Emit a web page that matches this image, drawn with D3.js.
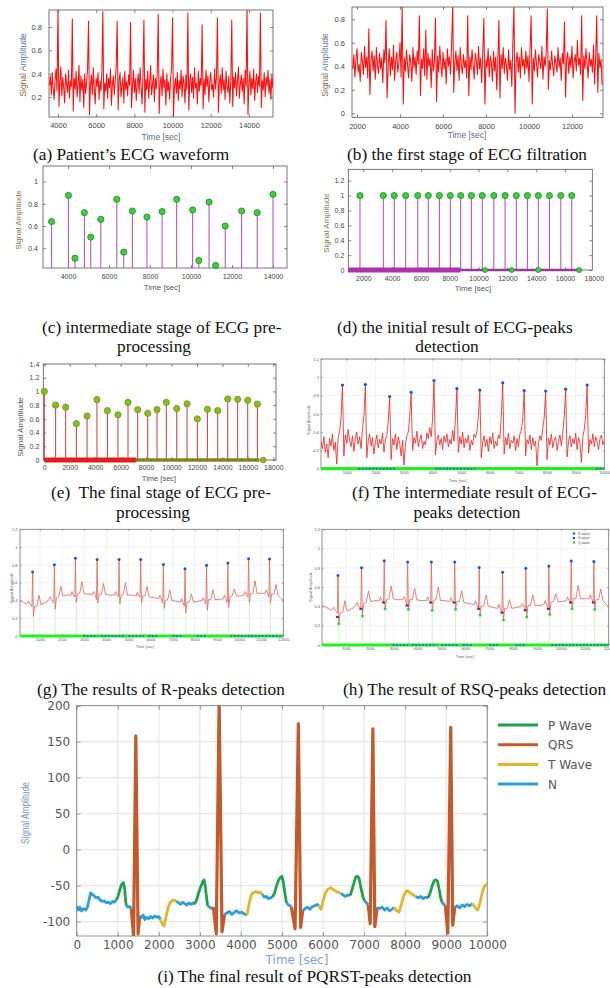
<!DOCTYPE html>
<html>
<head>
<meta charset="utf-8">
<script src="https://cdn.jsdelivr.net/npm/d3@7"></script>
<style>
body{margin:0;background:#fff;}
</style>
</head>
<body>
<svg id="fig" width="610" height="988"></svg>
<script>
/* ======== data ======== */
// (a) raw ECG, sampled every 50 s from 3550
var aStart = 3550, aStep = 50;
var aSignal = [0.30,0.38,0.22,0.41,0.27,0.18,0.35,0.44,0.25,
	0.97,0.12,0.33,0.46,0.21,0.37,0.28,0.15,0.40,0.31,0.24,0.43,0.19,0.34,0.29,
	0.87,0.08,0.36,0.27,0.42,0.20,0.31,0.47,0.16,0.38,0.26,0.35,0.11,0.40,0.23,0.33,0.44,
	0.85,0.05,0.30,0.39,0.22,0.45,0.27,0.14,0.36,0.29,0.41,0.18,0.34,0.25,0.43,
	0.93,0.10,0.32,0.25,0.40,0.19,0.36,0.28,0.44,0.13,0.31,0.38,0.22,0.35,0.46,
	0.85,0.09,0.34,0.41,0.20,0.29,0.37,0.15,0.42,0.26,0.33,0.21,0.39,0.30,
	0.84,0.11,0.28,0.43,0.24,0.36,0.17,0.32,0.40,0.23,0.45,0.29,0.14,0.37,
	0.86,0.07,0.35,0.26,0.42,0.19,0.33,0.47,0.22,0.30,0.39,0.16,0.36,0.27,0.41,
	0.91,0.06,0.31,0.38,0.21,0.44,0.28,0.35,0.13,0.40,0.25,0.33,0.18,0.37,0.45,
	0.88,0.04,0.29,0.36,0.23,0.41,0.17,0.34,0.27,0.43,0.20,0.38,0.31,0.15,0.39,0.26,
	0.92,0.09,0.33,0.40,0.24,0.37,0.19,0.45,0.28,0.32,0.14,0.42,0.25,0.36,0.30,
	0.82,0.10,0.35,0.22,0.43,0.29,0.38,0.16,0.34,0.41,0.26,0.31,0.20,0.44,0.27,0.37,
	0.88,0.07,0.32,0.39,0.23,0.45,0.26,0.35,0.18,0.42,0.30,0.24,0.38,0.15,0.33,
	0.86,0.12,0.37,0.28,0.41,0.21,0.34,0.46,0.19,0.31,0.39,0.25,0.36,0.14,0.43,0.29,
	0.97,0.05,0.30,0.42,0.22,0.36,0.27,0.44,0.17,0.33,0.40,0.24,0.38,0.29,
	0.92,0.11,0.34,0.26,0.41,0.20,0.37,0.30,0.43,0.23,0.35,0.18,0.39,0.28];
var aTicksX = [4000,6000,8000,10000,12000,14000];
var aTicksY = [0.2,0.4,0.6,0.8];

// (b) first filtration stage, every 50 s from 1800
var bStart = 1800, bStep = 50;
var bSignal = [0.38,0.50,0.31,0.46,0.55,0.35,0.42,0.27,0.52,0.44,0.33,0.57,0.39,0.48,0.30,
	0.72,0.16,0.45,0.53,0.36,0.49,0.29,0.56,0.41,0.34,0.51,0.38,0.47,0.26,0.54,0.43,
	0.79,0.13,0.40,0.55,0.32,0.48,0.37,0.58,0.28,0.45,0.52,0.35,0.43,0.60,0.31,
	0.92,0.08,0.47,0.36,0.54,0.41,0.30,0.50,0.44,0.27,0.56,0.39,0.48,0.33,0.53,0.42,
	0.83,0.15,0.46,0.38,0.55,0.32,
	0.71,0.29,0.51,0.40,0.47,0.22,0.54,0.36,0.44,
	0.81,0.10,0.49,0.35,0.57,0.42,0.31,0.52,0.38,0.46,0.25,0.55,0.40,0.48,0.33,0.58,
	0.92,0.18,0.44,0.53,0.36,0.49,0.28,0.56,0.41,0.34,0.50,0.39,0.45,0.30,
	0.83,0.15,0.48,0.37,0.54,0.42,0.29,0.51,0.45,0.33,0.57,0.38,0.47,0.26,0.52,
	0.81,0.08,0.46,0.39,0.55,0.31,0.49,0.43,0.27,0.53,0.36,0.48,0.20,0.44,
	0.79,0.13,0.50,0.38,0.56,0.34,0.47,0.41,0.28,0.54,0.37,0.45,0.23,0.61,
	0.92,0.00,0.43,0.52,0.35,0.48,0.30,0.56,0.40,0.46,0.33,0.53,0.38,0.49,0.27,0.55,
	0.83,0.08,0.47,0.36,0.54,0.42,0.31,0.50,0.44,0.38,0.57,0.29,0.48,0.40,0.52,
	0.89,0.20,0.45,0.37,0.53,0.41,0.32,0.49,0.43,0.35,0.56,0.39,0.47,0.28,0.51,0.42,
	0.78,0.14,0.46,0.52,0.34,0.48,0.39,0.57,0.30,0.44,0.50,0.36,0.62,0.41,0.47,0.33,
	0.83,0.11,0.49,0.38,0.55,0.43,0.30,0.52,0.40,0.46,0.35,0.58,0.25,0.47,
	0.83,0.18,0.51,0.39,0.46,0.24];
var bTicksX = [2000,4000,6000,8000,10000,12000];
var bTicksY = [0,0.2,0.4,0.6,0.8];

// (c) intermediate pre-processing stems
var cTimes = [3200,4020,4340,4800,5110,5600,6380,6720,7140,7850,8590,9300,10080,10380,10880,11200,11670,12470,13230,14000];
var cValues = [0.64,0.875,0.31,0.72,0.50,0.66,0.84,0.365,0.735,0.68,0.73,0.84,0.745,0.29,0.815,0.245,0.60,0.735,0.72,0.885];
var cTicksX = [4000,6000,8000,10000,12000,14000];
var cTicksY = [0.4,0.6,0.8,1];

// (d) initial peak detection
var dTimes = [1770,3390,4150,4940,5780,6510,7280,8040,8760,9500,10260,11060,11840,12620,13390,14150,14920,15710,16470];
var dValues = [1,1,1,1,1,1,1,1,1,1,1,1,1,1,1,1,1,1,1];
var dZeroDense = [950,8750];
var dZeroSparse = [8750,17000];
var dZeroMarks = [10450,12300,14150,16980];
var dTicksX = [2000,4000,6000,8000,10000,12000,14000,16000,18000];
var dTicksY = [0,0.2,0.4,0.6,0.8,1,1.2];

// (e) final pre-processing
var eTimes = [0,890,1680,2520,3360,4140,4960,5790,6580,7340,8130,8860,9590,10410,11220,12030,12820,13630,14420,15200,15990,16750];
var eValues = [1.0,0.80,0.77,0.53,0.64,0.88,0.72,0.66,0.84,0.735,0.68,0.735,0.84,0.75,0.82,0.60,0.74,0.72,0.89,0.885,0.87,0.815];
var eZeroDense = [0,7200];
var eZeroSparse = [7200,16900];
var eZeroMarks = [17200];
var eTicksX = [0,2000,4000,6000,8000,10000,12000,14000,16000,18000];
var eTicksY = [0,0.2,0.4,0.6,0.8,1,1.2,1.4];

// (f) intermediate ECG-peak detection, every 50 s from 100
var fStart = 100, fStep = 50;
var fSignal = [0.30,0.22,0.35,0.18,0.27,0.12,0.33,0.25,0.38,0.20,0.29,0.05,0.34,0.41,0.56,
	0.90,0.14,0.37,0.28,0.43,0.31,0.24,0.36,0.19,0.33,0.40,0.27,0.35,0.22,0.44,0.58,
	0.90,0.12,0.30,0.38,0.25,0.34,0.16,0.29,0.37,0.23,0.32,0.27,0.39,0.18,0.31,0.36,0.52,
	0.78,0.10,0.33,0.26,0.38,0.21,0.35,0.28,0.14,0.31,0.04,0.27,0.36,0.40,0.57,
	0.82,0.20,0.34,0.28,0.41,0.24,0.32,0.37,0.22,0.30,0.26,0.39,0.33,0.45,0.35,0.55,
	0.95,0.15,0.31,0.37,0.26,0.33,0.21,0.36,0.29,0.38,0.24,0.32,0.27,0.42,0.30,0.56,
	0.86,0.18,0.35,0.27,0.40,0.23,0.33,0.28,0.37,0.20,0.31,0.26,0.38,0.34,0.41,0.58,
	0.85,0.12,0.29,0.36,0.24,0.32,0.19,0.35,0.27,0.39,0.22,0.30,0.25,0.37,0.33,0.57,
	0.93,0.16,0.34,0.26,0.39,0.22,0.31,0.28,0.36,0.20,0.33,0.24,0.38,0.42,0.55,
	0.84,0.14,0.32,0.27,0.37,0.21,0.34,0.25,0.30,0.03,0.28,0.36,0.31,0.44,0.56,
	0.84,0.10,0.33,0.26,0.38,0.23,0.31,0.35,0.20,0.29,0.37,0.25,0.40,0.57,
	0.86,0.13,0.30,0.36,0.24,0.33,0.27,0.39,0.21,0.34,0.28,0.07,0.35,0.43,0.58,
	0.90,0.17,0.32,0.27,0.38,0.24,0.35,0.29,0.21,0.33,0.37,0.26,0.31];
var fPeakTimes = [850,1650,2500,3250,4050,4850,5650,6450,7200,7950,8650,9400];
var fPeakValues = [0.915,0.92,0.79,0.835,0.965,0.875,0.86,0.94,0.855,0.85,0.87,0.915];
var fBlueSpans = [[1400,2700],[4100,5500],[9700,10000]];
var fTicksX = [1000,2000,3000,4000,5000,6000,7000,8000,9000,10000];

// (g)/(h) cleaned ECG with R, S, Q peaks
var ecgSignal = [[0,0.41],[100,0.40],[250,0.38],[400,0.36],[490,0.39],[550,0.36],[640,0.33],[670,0.72],[705,0.22],[760,0.33],[870,0.34],[960,0.46],[1050,0.35],[1200,0.37],[1350,0.39],[1470,0.44],[1530,0.40],[1625,0.375],
	[1655,0.80],[1690,0.30],[1745,0.43],[1850,0.44],[1945,0.56],[2035,0.45],[2200,0.46],[2400,0.46],[2450,0.50],[2510,0.46],[2575,0.44],
	[2605,0.87],[2640,0.375],[2695,0.47],[2800,0.48],[2895,0.61],[2985,0.48],[3150,0.47],[3380,0.47],[3430,0.50],[3490,0.47],[3555,0.41],
	[3585,0.86],[3620,0.37],[3675,0.47],[3780,0.47],[3875,0.59],[3965,0.47],[4150,0.46],[4370,0.46],[4420,0.50],[4480,0.46],[4548,0.44],
	[4578,0.86],[4613,0.36],[4668,0.46],[4770,0.47],[4868,0.60],[4958,0.46],[5150,0.46],[5350,0.45],[5400,0.49],[5460,0.45],[5525,0.44],
	[5555,0.86],[5590,0.37],[5645,0.45],[5750,0.45],[5845,0.56],[5935,0.44],[6150,0.43],[6370,0.42],[6420,0.46],[6480,0.42],[6550,0.375],
	[6580,0.80],[6615,0.31],[6670,0.40],[6775,0.41],[6870,0.52],[6960,0.40],[7150,0.39],[7350,0.38],[7400,0.42],[7460,0.38],[7528,0.335],
	[7558,0.755],[7593,0.26],[7648,0.38],[7750,0.38],[7848,0.47],[7938,0.38],[8150,0.39],[8330,0.40],[8380,0.43],[8440,0.40],[8502,0.36],
	[8532,0.795],[8567,0.29],[8622,0.41],[8725,0.41],[8822,0.52],[8912,0.41],[9100,0.41],[9290,0.42],[9340,0.46],[9400,0.42],[9465,0.375],
	[9495,0.815],[9530,0.32],[9585,0.44],[9690,0.45],[9785,0.53],[9875,0.45],[10050,0.45],[10230,0.46],[10280,0.50],[10340,0.46],[10402,0.44],
	[10432,0.87],[10467,0.375],[10522,0.48],[10625,0.48],[10722,0.62],[10812,0.48],[11000,0.48],[11180,0.48],[11230,0.52],[11290,0.48],[11350,0.44],
	[11380,0.86],[11415,0.37],[11470,0.47],[11575,0.47],[11670,0.58],[11760,0.46],[11900,0.42],[12000,0.40]];
var rTimes = [670,1655,2605,3585,4578,5555,6580,7558,8532,9495,10432,11380];
var rValues = [0.72,0.80,0.875,0.86,0.86,0.86,0.805,0.755,0.795,0.82,0.87,0.865];
var sTimes = [645,1630,2580,3560,4553,5530,6555,7533,8507,9470,10407,11355];
var sValues = [0.29,0.375,0.44,0.41,0.44,0.44,0.375,0.335,0.36,0.375,0.44,0.44];
var qTimes = [705,1690,2640,3620,4613,5590,6615,7593,8567,9530,10467,11415];
var qValues = [0.22,0.30,0.375,0.37,0.36,0.37,0.31,0.26,0.29,0.32,0.375,0.37];
var ghBlueSpans = [[2950,3600],[3750,4800],[5000,5700],[5900,6300],[7000,7400],[8100,8500],[9600,12000]];
var ghTicksX = [1000,2000,3000,4000,5000,6000,7000,8000,9000,10000,11000,12000];
var smallTicksY = [0,0.2,0.4,0.6,0.8,1,1.2];
var rsqLegend = ['R-wave','S-wave','Q-wave'];

// (i) PQRST segmentation: [time, amplitude, wave]
var pqrstPoints = [
	[0,-78,'N'],[40,-84,'N'],[80,-80,'N'],[120,-85,'N'],[170,-82,'N'],[220,-84,'N'],[260,-80,'N'],[300,-70,'N'],[340,-60,'N'],[380,-62,'N'],[420,-64,'N'],[470,-67,'N'],[520,-66,'N'],[570,-70,'N'],[620,-72,'N'],[670,-71,'N'],[720,-74,'N'],[770,-73,'N'],[820,-75,'N'],[870,-72,'N'],[920,-73,'N'],[960,-70,'N'],
	[1000,-66,'P'],[1040,-58,'P'],[1080,-50,'P'],[1110,-47,'P'],[1140,-46,'P'],[1170,-55,'P'],[1190,-70,'P'],[1210,-78,'P'],
	[1250,-80,'N'],[1290,-79,'N'],[1330,-82,'N'],
	[1385,-120,'QRS'],[1440,158,'QRS'],[1495,-117,'QRS'],[1535,-92,'QRS'],
	[1580,-94,'N'],[1620,-91,'N'],[1660,-97,'N'],[1700,-94,'N'],[1750,-96,'N'],[1800,-93,'N'],[1850,-95,'N'],[1900,-92,'N'],[1950,-94,'N'],[2000,-93,'N'],[2040,-97,'N'],
	[2090,-104,'T'],[2130,-106,'T'],[2180,-92,'T'],[2230,-80,'T'],[2280,-73,'T'],[2330,-71,'T'],[2380,-70,'T'],[2430,-72,'T'],
	[2480,-74,'N'],[2530,-76,'N'],[2580,-73,'N'],[2630,-75,'N'],[2680,-77,'N'],[2730,-74,'N'],[2780,-76,'N'],[2830,-74,'N'],[2870,-76,'N'],
	[2920,-70,'P'],[2970,-60,'P'],[3020,-52,'P'],[3070,-45,'P'],[3100,-42,'P'],[3130,-50,'P'],[3160,-65,'P'],[3190,-78,'P'],
	[3240,-80,'N'],[3290,-82,'N'],[3330,-80,'N'],
	[3400,-117,'QRS'],[3470,205,'QRS'],[3540,-114,'QRS'],[3600,-90,'QRS'],
	[3660,-88,'N'],[3720,-86,'N'],[3780,-90,'N'],[3840,-87,'N'],[3900,-85,'N'],[3960,-88,'N'],[4020,-87,'N'],[4080,-89,'N'],[4150,-91,'N'],
	[4200,-75,'T'],[4250,-63,'T'],[4300,-60,'T'],[4360,-58,'T'],[4420,-60,'T'],[4470,-59,'T'],[4520,-62,'T'],
	[4570,-66,'N'],[4620,-65,'N'],[4670,-68,'N'],[4720,-67,'N'],[4770,-66,'N'],
	[4820,-60,'P'],[4870,-50,'P'],[4920,-42,'P'],[4970,-38,'P'],[5000,-37,'P'],[5030,-44,'P'],[5070,-60,'P'],[5110,-74,'P'],
	[5160,-77,'N'],[5200,-78,'N'],[5230,-80,'N'],
	[5320,-110,'QRS'],[5400,175,'QRS'],[5455,-108,'QRS'],[5505,-85,'QRS'],
	[5560,-82,'N'],[5620,-80,'N'],[5680,-83,'N'],[5740,-79,'N'],[5800,-78,'N'],[5860,-76,'N'],[5900,-78,'N'],
	[5950,-83,'T'],[6000,-72,'T'],[6060,-60,'T'],[6120,-55,'T'],[6200,-53,'T'],[6260,-56,'T'],[6330,-58,'T'],[6440,-61,'T'],
	[6490,-63,'N'],[6540,-65,'N'],[6600,-63,'N'],[6660,-64,'N'],
	[6710,-55,'P'],[6760,-45,'P'],[6800,-38,'P'],[6840,-37,'P'],[6880,-40,'P'],[6920,-52,'P'],[6970,-65,'P'],[7010,-71,'P'],
	[7060,-74,'N'],[7100,-76,'N'],
	[7150,-103,'QRS'],[7215,168,'QRS'],[7262,-107,'QRS'],[7320,-80,'QRS'],
	[7380,-82,'N'],[7440,-80,'N'],[7500,-84,'N'],[7560,-81,'N'],[7620,-85,'N'],[7680,-83,'N'],[7730,-80,'N'],
	[7780,-84,'T'],[7850,-87,'T'],[7900,-78,'T'],[7960,-65,'T'],[8020,-58,'T'],[8060,-57,'T'],[8120,-60,'T'],[8200,-63,'T'],[8260,-65,'T'],
	[8320,-67,'N'],[8380,-65,'N'],[8440,-68,'N'],[8500,-66,'N'],[8560,-67,'N'],
	[8610,-60,'P'],[8660,-50,'P'],[8710,-43,'P'],[8750,-42,'P'],[8790,-44,'P'],[8830,-55,'P'],[8870,-68,'P'],[8900,-73,'P'],
	[8940,-76,'N'],[8980,-77,'N'],
	[9040,-116,'QRS'],[9112,170,'QRS'],[9160,-105,'QRS'],[9210,-80,'QRS'],
	[9270,-78,'N'],[9330,-81,'N'],[9390,-77,'N'],[9450,-79,'N'],[9510,-76,'N'],[9570,-78,'N'],[9640,-75,'N'],
	[9700,-80,'T'],[9770,-84,'T'],[9820,-75,'T'],[9870,-62,'T'],[9920,-52,'T'],[9960,-49,'T'],[10000,-48,'T']];
var waveKeys = ['P','QRS','T','N'];
var waveNames = ['P Wave','QRS','T Wave','N'];
var iTicksX = [0,1000,2000,3000,4000,5000,6000,7000,8000,9000,10000];
var iTicksY = [-100,-50,0,50,100,150,200];

var captions = [
	['(a) Patient\u2019s ECG waveform'],
	['(b) the first stage of ECG filtration'],
	['(c) intermediate stage of ECG pre-','processing'],
	['(d) the initial result of ECG-peaks','detection'],
	['(e)  The final stage of ECG pre-','processing'],
	['(f) The intermediate result of ECG-','peaks detection'],
	['(g) The results of R-peaks detection'],
	['(h) The result of RSQ-peaks detection'],
	['(i) The final result of PQRST-peaks detection']
];

/* ======== drawing ======== */
var svg = d3.select('#fig');
var sans = 'Liberation Sans, Arial, sans-serif';
var serif = 'Liberation Serif, Times New Roman, serif';
var waveColors = {P:'#23a04a', QRS:'#c4592b', T:'#e3b52e', N:'#2b9fd8'};

function drawAxes(o){
	var x = d3.scaleLinear().domain(o.xDomain).range([o.left, o.right]);
	var y = d3.scaleLinear().domain(o.yDomain).range([o.bottom, o.top]);
	var font = o.font || sans;
	var g = svg.append('g');
	svg.append('clipPath').attr('id', 'clip-'+o.name)
		.append('rect')
		.attr('x', o.left).attr('y', o.top)
		.attr('width', o.right-o.left).attr('height', o.bottom-o.top);
	var inX = function(d){ return d >= o.xDomain[0] && d <= o.xDomain[1]; };
	var inY = function(d){ return d >= o.yDomain[0] && d <= o.yDomain[1]; };
	if(o.grid){
		g.selectAll('line.gx').data(o.xTicks.filter(inX)).enter().append('line')
			.attr('class', 'gx')
			.attr('x1', x).attr('x2', x)
			.attr('y1', o.top).attr('y2', o.bottom)
			.attr('stroke', o.grid).attr('stroke-width', o.gridWidth || 0.6);
		g.selectAll('line.gy').data(o.yTicks.filter(inY)).enter().append('line')
			.attr('class', 'gy')
			.attr('x1', o.left).attr('x2', o.right)
			.attr('y1', y).attr('y2', y)
			.attr('stroke', o.grid).attr('stroke-width', o.gridWidth || 0.6);
	}
	var fmtY = function(d){ return String(+d.toFixed(2)); };
	var bottom = g.append('g').attr('transform', 'translate(0,'+o.bottom+')')
		.call(d3.axisBottom(x).tickValues(o.xTicks).tickSizeInner(-o.tick).tickSizeOuter(0)
			.tickPadding(o.padX).tickFormat(d3.format('d')));
	var left = g.append('g').attr('transform', 'translate('+o.left+',0)')
		.call(d3.axisLeft(y).tickValues(o.yTicks).tickSizeInner(-o.tick).tickSizeOuter(0)
			.tickPadding(o.padY).tickFormat(fmtY));
	var top = g.append('g').attr('transform', 'translate(0,'+o.top+')')
		.call(d3.axisTop(x).tickValues(o.xTicks.filter(inX)).tickSizeInner(-o.tick).tickSizeOuter(0).tickFormat(''));
	var right = g.append('g').attr('transform', 'translate('+o.right+',0)')
		.call(d3.axisRight(y).tickValues(o.yTicks.filter(inY)).tickSizeInner(-o.tick).tickSizeOuter(0).tickFormat(''));
	[bottom, left, top, right].forEach(function(a){
		a.select('.domain').remove();
		a.selectAll('line').attr('stroke', o.axisColor).attr('stroke-width', 0.7);
		a.selectAll('text').attr('font-family', font).attr('font-size', o.fs).attr('fill', o.textColor);
	});
	bottom.selectAll('.tick').filter(function(d){ return !inX(d); }).select('line').remove();
	g.append('rect')
		.attr('x', o.left).attr('y', o.top)
		.attr('width', o.right-o.left).attr('height', o.bottom-o.top)
		.attr('fill', 'none').attr('stroke', o.axisColor).attr('stroke-width', 0.8);
	return {x: x, y: y, clip: 'url(#clip-'+o.name+')'};
}

function timeTitle(cx, by, size, color){
	svg.append('text').attr('x', cx).attr('y', by)
		.attr('text-anchor', 'middle').attr('font-family', sans)
		.attr('font-size', size).attr('fill', color).text('Time [sec]');
}
function ampTitle(bx, cy, size, c1, c2){
	var t = svg.append('text')
		.attr('transform', 'translate('+bx+','+cy+') rotate(-90)')
		.attr('text-anchor', 'middle').attr('font-family', sans).attr('font-size', size);
	t.append('tspan').attr('fill', c1).text('Signal ');
	t.append('tspan').attr('fill', c2).text('Amplitude');
	return t;
}
function seriesLine(p, values, start, step, color, width){
	var line = d3.line()
		.x(function(d, i){ return p.x(start + i*step); })
		.y(function(d){ return p.y(d); });
	svg.append('path').datum(values)
		.attr('d', line).attr('fill', 'none')
		.attr('stroke', color).attr('stroke-width', width)
		.attr('stroke-linejoin', 'round')
		.attr('clip-path', p.clip);
}
function stems(p, times, values, color, width, clip){
	svg.append('g').attr('clip-path', clip ? p.clip : null)
		.selectAll('line').data(times).enter().append('line')
		.attr('x1', function(d){ return p.x(d); }).attr('x2', function(d){ return p.x(d); })
		.attr('y1', p.y(0)).attr('y2', function(d, i){ return p.y(values[i]); })
		.attr('stroke', color).attr('stroke-width', width);
}
function dots(p, times, values, r, fill, stroke, sw){
	svg.append('g').selectAll('circle').data(times).enter().append('circle')
		.attr('cx', function(d){ return p.x(d); })
		.attr('cy', function(d, i){ return p.y(values[i]); })
		.attr('r', r).attr('fill', fill)
		.attr('stroke', stroke || 'none').attr('stroke-width', sw || 0);
}
function band(p, span, color, width, dash){
	svg.append('line')
		.attr('x1', p.x(span[0])).attr('x2', p.x(span[1]))
		.attr('y1', p.y(0)).attr('y2', p.y(0))
		.attr('stroke', color).attr('stroke-width', width)
		.attr('stroke-dasharray', dash || null);
}
function caption(x0, y0, txt, anchor){
	svg.append('text').attr('x', x0).attr('y', y0)
		.attr('text-anchor', anchor || 'start')
		.attr('font-family', serif).attr('font-size', 17.3)
		.attr('fill', '#111').style('white-space', 'pre')
		.text(txt);
}

/* (a) */
var pa = drawAxes({name:'a', left:49, right:273, top:10, bottom:117,
	xDomain:[3530,15260], yDomain:[0.029,0.946], xTicks:aTicksX, yTicks:aTicksY,
	tick:3, padX:6, padY:7, fs:7.5, axisColor:'#555', textColor:'#444'});
seriesLine(pa, aSignal, aStart, aStep, '#ff1010', 1.05);
timeTitle(161, 140, 8.5, '#5d6f85');
ampTitle(26, 65, 8.5, '#8c6e3c', '#6a7b94');

/* (b) */
var pb = drawAxes({name:'b', left:352, right:603, top:7, bottom:117.3,
	xDomain:[1767,13442], yDomain:[-0.034,0.905], xTicks:bTicksX, yTicks:bTicksY,
	tick:3, padX:6, padY:7, fs:7.5, axisColor:'#555', textColor:'#444'});
seriesLine(pb, bSignal, bStart, bStep, '#ff1010', 1.05);
timeTitle(467, 138, 8.5, '#5d6f85');
ampTitle(328, 65, 8.5, '#8c6e3c', '#6a7b94');

/* (c) */
var pc = drawAxes({name:'c', left:43, right:287, top:166, bottom:268,
	xDomain:[2780,14683], yDomain:[0.222,1.14], xTicks:cTicksX, yTicks:cTicksY,
	tick:3, padX:6, padY:5, fs:7, axisColor:'#555', textColor:'#444'});
stems(pc, cTimes, cValues, '#b24ab8', 1, true);
dots(pc, cTimes, cValues, 3.1, '#35d335', '#2e7d32', 0.8);
timeTitle(162, 289.5, 8, '#555');
ampTitle(20.5, 220, 8, '#8c6e3c', '#8c7a5a');

/* (d) */
var pd = drawAxes({name:'d', left:348.3, right:592.3, top:169.3, bottom:270,
	xDomain:[958,17896], yDomain:[0,1.353], xTicks:dTicksX, yTicks:dTicksY,
	tick:3, padX:6, padY:4, fs:7, axisColor:'#555', textColor:'#444'});
stems(pd, dTimes, dValues, '#b24ab8', 1, true);
band(pd, dZeroDense, '#b030b0', 5);
band(pd, dZeroSparse, '#b030b0', 2.6);
band(pd, dZeroSparse, '#2f6b2f', 0.8, '3,2');
dots(pd, dZeroMarks, dZeroMarks.map(function(){ return 0; }), 2.6, '#35d335', '#2e7d32', 0.6);
dots(pd, dTimes, dValues, 3.1, '#35d335', '#2e7d32', 0.8);
timeTitle(473, 291, 8, '#555');
ampTitle(329, 223, 8, '#8c6e3c', '#8c7a5a');

/* (e) */
var pe = drawAxes({name:'e', left:43.3, right:276, top:364, bottom:460,
	xDomain:[-79,18212], yDomain:[0,1.4], xTicks:eTicksX, yTicks:eTicksY,
	tick:3, padX:5, padY:4, fs:7, axisColor:'#555', textColor:'#444'});
stems(pe, eTimes, eValues, '#c43c3c', 1, true);
band(pe, eZeroSparse, '#7f8c1e', 3.4);
band(pe, eZeroSparse, '#d83030', 1, '2,5');
band(pe, eZeroDense, '#e01e1e', 5);
dots(pe, eZeroMarks, [0], 2.8, '#5fd21e', '#d2691e', 0.9);
dots(pe, eTimes, eValues, 3.1, '#5fd21e', '#d2691e', 0.9);
timeTitle(159, 481, 7.5, '#555');
ampTitle(23, 427, 8, '#555', '#555');

/* (f) */
var pf = drawAxes({name:'f', left:321, right:604.3, top:359, bottom:468.7,
	xDomain:[100,10000], yDomain:[0,1.2], xTicks:fTicksX, yTicks:smallTicksY,
	tick:1.5, padX:2, padY:2, fs:4, axisColor:'#777', textColor:'#555',
	grid:'#e4e4e4', gridWidth:0.5});
seriesLine(pf, fSignal, fStart, fStep, '#f02828', 0.85);
band(pf, [100,10000], '#22ee22', 3.2);
fBlueSpans.forEach(function(s){ band(pf, s, '#1f5fd0', 1.6, '2,1.5'); });
dots(pf, fPeakTimes, fPeakValues, 1.6, '#1f55c8');
timeTitle(458, 482, 4, '#666');
ampTitle(309.5, 420, 4, '#666', '#666');

/* (g) */
var pg = drawAxes({name:'g', left:20, right:283.3, top:529.3, bottom:636,
	xDomain:[100,12000], yDomain:[0,1.2], xTicks:ghTicksX, yTicks:smallTicksY,
	tick:1.5, padX:2, padY:2.5, fs:4, axisColor:'#777', textColor:'#555',
	grid:'#e4e4e4', gridWidth:0.5});
stems(pg, qTimes, qValues, '#c4ecc4', 0.8, true);
svg.append('path').datum(ecgSignal)
	.attr('d', d3.line().x(function(d){ return pg.x(d[0]); }).y(function(d){ return pg.y(d[1]); }))
	.attr('fill', 'none').attr('stroke', '#e06458').attr('stroke-width', 0.8)
	.attr('clip-path', pg.clip);
band(pg, [100,12000], '#22ee22', 3.2);
ghBlueSpans.forEach(function(s){ band(pg, s, '#1f5fd0', 1.6, '2,1.5'); });
dots(pg, rTimes, rValues, 1.5, '#1f55c8');
timeTitle(145, 647.5, 4, '#666');
ampTitle(13, 588, 4, '#666', '#666');

/* (h) */
var ph = drawAxes({name:'h', left:322, right:608.7, top:529.3, bottom:645,
	xDomain:[0,12000], yDomain:[0,1.2], xTicks:ghTicksX, yTicks:smallTicksY,
	tick:1.5, padX:2, padY:2, fs:4, axisColor:'#777', textColor:'#555',
	grid:'#e4e4e4', gridWidth:0.5});
stems(ph, qTimes, qValues, '#c4ecc4', 0.8, true);
svg.append('path').datum(ecgSignal)
	.attr('d', d3.line().x(function(d){ return ph.x(d[0]); }).y(function(d){ return ph.y(d[1]); }))
	.attr('fill', 'none').attr('stroke', '#e06458').attr('stroke-width', 0.8)
	.attr('clip-path', ph.clip);
band(ph, [0,12000], '#22ee22', 3.2);
ghBlueSpans.forEach(function(s){ band(ph, s, '#1f5fd0', 1.6, '2,1.5'); });
dots(ph, rTimes, rValues, 1.5, '#1f55c8');
svg.append('g').selectAll('rect').data(sTimes).enter().append('rect')
	.attr('x', function(d){ return ph.x(d)-1.5; })
	.attr('y', function(d, i){ return ph.y(sValues[i])-1; })
	.attr('width', 3).attr('height', 2).attr('fill', '#5b2d7d');
dots(ph, qTimes, qValues, 1.5, '#2fd14a');
var legColors = ['#1f55c8','#5b2d7d','#2fd14a'];
rsqLegend.forEach(function(name, i){
	var ly = 533.5 + i*4.5;
	svg.append('circle').attr('cx', 574).attr('cy', ly).attr('r', 1.2).attr('fill', legColors[i]);
	svg.append('text').attr('x', 578).attr('y', ly+1.2)
		.attr('font-family', sans).attr('font-size', 3.5).attr('fill', '#555').text(name);
});
timeTitle(465, 658, 4, '#666');
ampTitle(312, 587, 4, '#666', '#666');

/* (i) */
var pi = drawAxes({name:'i', left:76.7, right:487.2, top:705.7, bottom:936,
	xDomain:[0,10000], yDomain:[-120,200], xTicks:iTicksX, yTicks:iTicksY,
	tick:4, padX:4, padY:6.5, fs:12, font:'DejaVu Sans, sans-serif',
	axisColor:'#777', textColor:'#555', grid:'#dcdcdc', gridWidth:0.8});
var segs = [], cur = null;
pqrstPoints.forEach(function(p, i){
	if(!cur || cur.wave != p[2]){
		cur = {wave: p[2], pts: i > 0 ? [pqrstPoints[i-1]] : []};
		segs.push(cur);
	}
	cur.pts.push(p);
});
var iLine = d3.line().x(function(d){ return pi.x(d[0]); }).y(function(d){ return pi.y(d[1]); });
segs.forEach(function(s){
	svg.append('path').datum(s.pts)
		.attr('d', iLine).attr('fill', 'none')
		.attr('stroke', waveColors[s.wave])
		.attr('stroke-width', s.wave == 'QRS' ? 3.2 : 2.8)
		.attr('stroke-linejoin', 'round')
		.attr('clip-path', pi.clip);
});
waveKeys.forEach(function(k, i){
	var ly = 725 + i*19.7;
	svg.append('line').attr('x1', 498).attr('x2', 538).attr('y1', ly).attr('y2', ly)
		.attr('stroke', waveColors[k]).attr('stroke-width', 3);
	svg.append('text').attr('x', 548).attr('y', ly+4.5)
		.attr('font-family', 'DejaVu Sans, sans-serif').attr('font-size', 12)
		.attr('fill', '#555').text(waveNames[i]);
});
svg.append('text').attr('x', 297).attr('y', 964)
	.attr('text-anchor', 'middle').attr('font-family', 'DejaVu Sans, sans-serif')
	.attr('font-size', 12).attr('fill', '#7f9fd0').text('Time [sec]');
ampTitle(29, 813, 10.5, '#7a94c4', '#7a94c4')
	.attr('textLength', 62).attr('lengthAdjust', 'spacingAndGlyphs');

/* captions */
caption(33, 160, captions[0][0]);
caption(347, 160, captions[1][0]);
caption(42, 333, captions[2][0]);
caption(154, 352, captions[2][1], 'middle');
caption(337, 333, captions[3][0]);
caption(447, 352, captions[3][1], 'middle');
caption(51, 498, captions[4][0]);
caption(153, 518, captions[4][1], 'middle');
caption(352, 498, captions[5][0]);
caption(467, 518, captions[5][1], 'middle');
caption(37, 695, captions[6][0]);
caption(343, 695, captions[7][0]);
caption(314.5, 982, captions[8][0], 'middle');
</script>
</body>
</html>
